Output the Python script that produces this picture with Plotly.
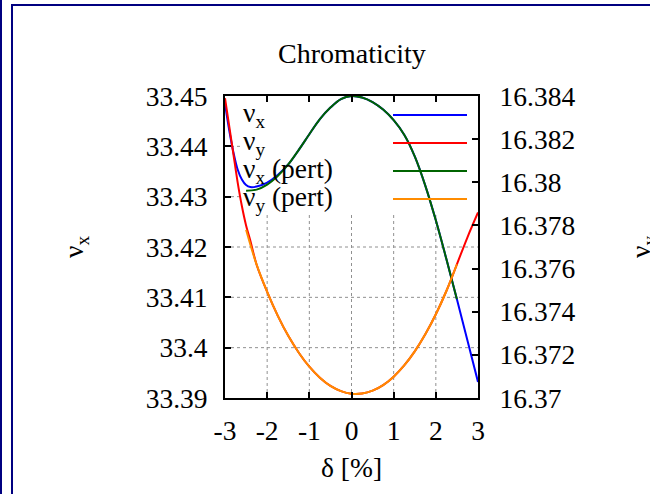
import plotly.graph_objects as go

# ---------------- data ----------------
delta_full = [-3.0, -2.9, -2.8, -2.7, -2.6, -2.5, -2.4, -2.25, -2.0, -1.75, -1.5, -1.25,
              -1.0, -0.75, -0.5, -0.25, 0.0, 0.25, 0.5, 0.75, 1.0, 1.25, 1.5, 1.75,
              2.0, 2.25, 2.5, 2.75, 3.0]
nu_x = [33.4485, 33.4432, 33.4388, 33.4354, 33.4334, 33.4323, 33.4319, 33.4320, 33.4328,
        33.4343, 33.4364, 33.4393, 33.4424, 33.4454, 33.4477, 33.4494, 33.4500, 33.4497,
        33.4488, 33.4473, 33.4452, 33.4423, 33.4380, 33.4322, 33.4253, 33.4176, 33.4096,
        33.4014, 33.3932]
nu_y = [16.3839, 16.3826, 16.3813, 16.3800, 16.3789, 16.3780, 16.3773, 16.37618, 16.37492,
        16.37382, 16.37288, 16.37210, 16.37145, 16.37094, 16.37056, 16.37032, 16.37020, 16.37021,
        16.37034, 16.37060, 16.37099, 16.37151, 16.37216, 16.37295, 16.37388, 16.37496, 16.37620,
        16.37745, 16.37860]

delta_pert = [-2.5, -2.25, -2.0, -1.75, -1.5, -1.25, -1.0, -0.75, -0.5, -0.25, 0.0,
              0.25, 0.5, 0.75, 1.0, 1.25, 1.5, 1.75, 2.0, 2.25, 2.5]
nu_x_pert = [33.4312, 33.4314, 33.4324, 33.4341, 33.4364, 33.4393, 33.4424, 33.4454,
             33.4477, 33.4494, 33.4500, 33.4497, 33.4488, 33.4473, 33.4452, 33.4423,
             33.4380, 33.4322, 33.4253, 33.4176, 33.4096]
nu_y_pert = [16.37780, 16.37618, 16.37492, 16.37382, 16.37288, 16.37210, 16.37145, 16.37094,
             16.37056, 16.37032, 16.37020, 16.37021, 16.37034, 16.37060, 16.37099, 16.37151,
             16.37216, 16.37295, 16.37388, 16.37496, 16.37620]

x_ticks = [-3, -2, -1, 0, 1, 2, 3]
y1_ticks = [33.39, 33.40, 33.41, 33.42, 33.43, 33.44, 33.45]
y1_labels = ["33.39", "33.4", "33.41", "33.42", "33.43", "33.44", "33.45"]
y2_ticks = [16.370, 16.372, 16.374, 16.376, 16.378, 16.380, 16.382, 16.384]
y2_labels = ["16.37", "16.372", "16.374", "16.376", "16.378", "16.38", "16.382", "16.384"]

series_names = ["ν<sub>x</sub>", "ν<sub>y</sub>", "ν<sub>x</sub> (pert)", "ν<sub>y</sub> (pert)"]
series_colors = ["#0000ff", "#ff0000", "#006400", "#ff8c00"]

FONT = "Liberation Serif"
FS = 27.5

fig = go.Figure()
fig.add_trace(go.Scatter(x=delta_full, y=nu_x, mode="lines", line=dict(color=series_colors[0], width=2, shape="spline"), yaxis="y"))
fig.add_trace(go.Scatter(x=delta_full, y=nu_y, mode="lines", line=dict(color=series_colors[1], width=2, shape="spline"), yaxis="y2"))
fig.add_trace(go.Scatter(x=delta_pert, y=nu_x_pert, mode="lines", line=dict(color=series_colors[2], width=2, shape="spline"), yaxis="y"))
fig.add_trace(go.Scatter(x=delta_pert, y=nu_y_pert, mode="lines", line=dict(color=series_colors[3], width=2, shape="spline"), yaxis="y2"))

shapes = []
grid = dict(color="#909090", width=1, dash="dot")
# vertical grid lines (hidden behind the key region at the top)
for xv in x_ticks[1:-1]:
    shapes.append(dict(type="line", xref="x", yref="y", x0=xv, x1=xv, y0=33.39, y1=33.4265, line=grid, layer="below"))
for yv in y1_ticks[1:-1]:
    if yv < 33.425:
        shapes.append(dict(type="line", xref="x", yref="y", x0=-3, x1=3, y0=yv, y1=yv, line=grid, layer="below"))
    else:
        shapes.append(dict(type="line", xref="x", yref="y", x0=-3, x1=-2.6, y0=yv, y1=yv, line=grid, layer="below"))

# page frame (navy)
W, H = 650, 494
L, R, T, B = 225, 172, 96, 96
pw, ph = W - L - R, H - T - B
def px(xp):
    return (xp - L) / pw
def py(yp):
    return (H - B - yp) / ph
navy = "#000080"
shapes.append(dict(type="line", xref="paper", yref="paper", x0=px(1), x1=px(1), y0=py(0), y1=py(H), line=dict(color=navy, width=2)))
shapes.append(dict(type="line", xref="paper", yref="paper", x0=px(12), x1=px(12), y0=py(4), y1=py(H + 2), line=dict(color=navy, width=2)))
shapes.append(dict(type="line", xref="paper", yref="paper", x0=px(11), x1=px(W + 2), y0=py(5), y1=py(5), line=dict(color=navy, width=2)))

annotations = []
# key
key_rows = [115, 143, 171, 199]
for name, col, yr in zip(series_names, series_colors, key_rows):
    shapes.append(dict(type="line", xref="paper", yref="paper", x0=px(393), x1=px(467), y0=py(yr), y1=py(yr), line=dict(color=col, width=2)))
    annotations.append(dict(text=name, xref="paper", yref="paper", x=px(241), y=py(yr - 1), xanchor="left", yanchor="middle",
                            showarrow=False, font=dict(family=FONT, size=FS, color="black")))

annotations.append(dict(text="Chromaticity", xref="paper", yref="paper", x=0.5, y=py(53), xanchor="center", yanchor="middle",
                        showarrow=False, font=dict(family=FONT, size=28, color="black")))
annotations.append(dict(text="δ [%]", xref="paper", yref="paper", x=0.5, y=py(467), xanchor="center", yanchor="middle",
                        showarrow=False, font=dict(family=FONT, size=FS, color="black")))
annotations.append(dict(text="ν<sub>x</sub>", xref="paper", yref="paper", x=px(75), y=py(247), xanchor="center", yanchor="middle",
                        textangle=-90, showarrow=False, font=dict(family=FONT, size=FS, color="black")))
annotations.append(dict(text="ν<sub>y</sub>", xref="paper", yref="paper", x=px(642), y=py(247), xanchor="center", yanchor="middle",
                        textangle=-90, showarrow=False, font=dict(family=FONT, size=FS, color="black")))

fig.update_layout(
    width=W, height=H,
    margin=dict(l=L, r=R, t=T, b=B, pad=0),
    paper_bgcolor="white", plot_bgcolor="white",
    showlegend=False,
    font=dict(family=FONT, size=FS, color="black"),
    xaxis=dict(range=[-3, 3], tickvals=x_ticks, ticktext=[str(v) for v in x_ticks],
               showgrid=False, zeroline=False, showline=True, linecolor="black", linewidth=2,
               mirror="ticks", ticks="inside", ticklen=6, tickwidth=1.5, tickcolor="black",
               ticklabelstandoff=7, tickfont=dict(family=FONT, size=FS)),
    yaxis=dict(range=[33.39, 33.45], tickvals=y1_ticks, ticktext=y1_labels,
               showgrid=False, zeroline=False, showline=True, linecolor="black", linewidth=2,
               ticks="inside", ticklen=6, tickwidth=1.5, tickcolor="black", ticklabelstandoff=10,
               tickfont=dict(family=FONT, size=FS)),
    yaxis2=dict(range=[16.370, 16.384], tickvals=y2_ticks, ticktext=y2_labels, overlaying="y", side="right",
                showgrid=False, zeroline=False, showline=True, linecolor="black", linewidth=2,
                ticks="inside", ticklen=6, tickwidth=1.5, tickcolor="black", ticklabelstandoff=14,
                tickfont=dict(family=FONT, size=FS)),
    shapes=shapes,
    annotations=annotations,
)

fig.write_html("out.html")
